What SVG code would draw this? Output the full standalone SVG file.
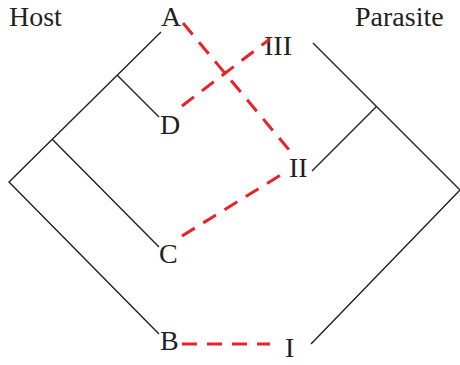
<svg xmlns="http://www.w3.org/2000/svg" width="460" height="365" viewBox="0 0 460 365">
<style>
.t{font-family:"Liberation Serif","Times New Roman",serif;font-size:28px;fill:#231f20}
.e{stroke:#231f20;stroke-width:1.4;fill:none}
.m{stroke:#ec2027;stroke-width:3;fill:none;stroke-dasharray:15 10}
</style>
<rect width="460" height="365" fill="#fff"/>
<text class="t" x="9" y="26">Host</text>
<text class="t" x="355" y="26">Parasite</text>
<g id="host-tree">
<path class="e" d="M161,32 L9,182 L159,334 M117,75 L159,117 M52,139 L159,247"/>
</g>
<g id="parasite-tree">
<path class="e" d="M313,43 L460,190 L311,344 M376,107 L312,171"/>
</g>
<g id="A"><text class="t" x="161" y="26">A</text></g>
<g id="D"><text class="t" x="160" y="134">D</text></g>
<g id="C"><text class="t" x="159" y="263">C</text></g>
<g id="B"><text class="t" x="160" y="350">B</text></g>
<g id="III"><text class="t" x="264" y="55">III</text></g>
<g id="II"><text class="t" x="289" y="177">II</text></g>
<g id="I"><text class="t" x="285" y="357">I</text></g>
<g id="connectors">
<path class="m" d="M183,23 L290,151"/>
<path class="m" d="M182,106 L270,39"/>
<path class="m" d="M182,236 L284,173"/>
<path class="m" d="M182,344 L270,344"/>
</g>
</svg>
